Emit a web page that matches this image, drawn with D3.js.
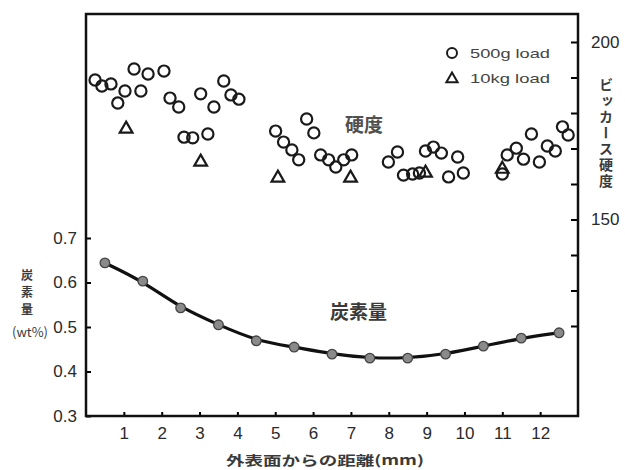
<!DOCTYPE html>
<html lang="ja">

<head>
    <meta charset="UTF-8">
    <title>硬度と炭素量</title>
    <script src="https://d3js.org/d3.v7.min.js"></script>
    <style>
        body {
            margin: 0;
            background: #fff;
        }

        .tick text {
            font-family: "Liberation Sans", Arial, sans-serif;
            font-size: 17px;
            fill: #2a2a2a;
        }

        .jp {
            font-family: "Noto Sans CJK JP", sans-serif;
            fill: #3a3a3a;
        }
    </style>
</head>

<body>
    <svg class="chart" width="625" height="470"></svg>

    <script>
        // x軸 (外表面からの距離 mm)
        const xTicks = [1, 2, 3, 4, 5, 6, 7, 8, 9, 10, 11, 12];
        // 炭素量 (wt%)
        const carbonTicks = [0.3, 0.4, 0.5, 0.6, 0.7];
        const carbonX = [0.5, 1.5, 2.5, 3.5, 4.5, 5.5, 6.5, 7.5, 8.5, 9.5, 10.5, 11.5, 12.5];
        const carbonY = [0.644, 0.603, 0.543, 0.505, 0.469, 0.455, 0.439, 0.430, 0.430, 0.439, 0.457, 0.475, 0.487];
        // ビッカース硬度
        const hvTicks = [120, 130, 140, 150, 160, 170, 180, 190, 200];
        const hvLabels = [150, 200];
        const hv500X = [0.24, 0.42, 0.66, 1.27, 1.64, 2.06, 1.03, 1.45, 0.84, 2.22, 2.45, 3.03, 3.38, 3.64, 3.83, 4.04,
            2.59, 2.82, 3.22, 5.01, 5.22, 5.44, 5.62, 5.83, 6.02, 6.20, 6.41, 6.60, 6.81, 7.02,
            7.99, 8.23, 8.39, 8.63, 8.81, 8.97, 9.18, 9.39, 9.82, 9.58, 9.97,
            11.00, 11.13, 11.37, 11.56, 11.77, 11.98, 12.19, 12.40, 12.59, 12.74];
        const hv500Y = [189.3, 187.6, 188.2, 192.4, 191.0, 191.8, 186.2, 186.2, 182.8, 184.2, 181.7, 185.4, 181.7, 189.0, 185.1, 183.9,
            173.2, 173.0, 174.1, 174.9, 171.8, 169.6, 166.8, 178.3, 174.4, 168.2, 166.8, 164.8, 166.8, 168.2,
            166.2, 169.0, 162.5, 162.8, 163.1, 169.3, 170.4, 168.7, 167.6, 162.0, 163.1,
            162.8, 168.2, 170.1, 167.0, 174.1, 166.2, 170.7, 169.3, 176.1, 173.8];
        const hv10kX = [1.06, 3.03, 5.07, 6.99, 8.97, 11.0];
        const hv10kY = [175.5, 166.2, 161.7, 161.7, 163.1, 164.2];

        const svg = d3.select(".chart");

        // プロット領域
        const plotLeft = 86, plotRight = 578, plotTop = 14, plotBottom = 416;

        const x = d3.scaleLinear().domain([0, 13]).range([plotLeft, plotRight]);
        const yC = d3.scaleLinear().domain([0.3, 0.7]).range([plotBottom, 238]);
        const yH = d3.scaleLinear().domain([150, 200]).range([219.5, 42]);

        // 軸
        svg.append("g")
            .attr("transform", "translate(" + plotLeft + ",0)")
            .call(d3.axisLeft(yC).tickValues(carbonTicks).tickFormat(d3.format(".1f"))
                .tickSizeInner(-5).tickSizeOuter(0).tickPadding(9))
            .call(g => g.select(".domain").remove())
            .selectAll(".tick line").attr("stroke-width", 2);

        svg.append("g")
            .attr("transform", "translate(0," + plotBottom + ")")
            .call(d3.axisBottom(x).tickValues(xTicks).tickSizeInner(-4).tickSizeOuter(0).tickPadding(11))
            .call(g => g.select(".domain").remove())
            .selectAll(".tick line").attr("stroke-width", 2);

        svg.append("g")
            .attr("transform", "translate(" + plotRight + ",0)")
            .call(d3.axisRight(yH).tickValues(hvTicks)
                .tickFormat(d => hvLabels.includes(d) ? d : "")
                .tickSizeInner(-7).tickSizeOuter(0).tickPadding(13))
            .call(g => g.select(".domain").remove())
            .selectAll(".tick line").attr("stroke-width", 2);

        // 枠
        svg.append("rect")
            .attr("x", plotLeft).attr("y", plotTop)
            .attr("width", plotRight - plotLeft).attr("height", plotBottom - plotTop)
            .attr("fill", "none").attr("stroke", "#111").attr("stroke-width", 2.5);

        // 硬度 500g
        svg.selectAll(".hv500")
            .data(hv500X)
            .enter().append("circle")
            .attr("class", "hv500")
            .attr("cx", d => x(d))
            .attr("cy", (d, i) => yH(hv500Y[i]))
            .attr("r", 5.6)
            .attr("fill", "none")
            .attr("stroke", "#1a1a1a")
            .attr("stroke-width", 2.2);

        // 硬度 10kg
        const tri = d3.symbol(d3.symbolTriangle, 70);
        svg.selectAll(".hv10k")
            .data(hv10kX)
            .enter().append("path")
            .attr("class", "hv10k")
            .attr("d", tri)
            .attr("transform", (d, i) => "translate(" + x(d) + "," + yH(hv10kY[i]) + ")")
            .attr("fill", "none")
            .attr("stroke", "#1a1a1a")
            .attr("stroke-width", 2.2);

        // 炭素量
        const carbon = carbonX.map((d, i) => [d, carbonY[i]]);
        svg.append("path")
            .datum(carbon)
            .attr("d", d3.line().x(d => x(d[0])).y(d => yC(d[1])).curve(d3.curveBasis))
            .attr("fill", "none")
            .attr("stroke", "#111")
            .attr("stroke-width", 3.2);

        svg.selectAll(".carbon")
            .data(carbon)
            .enter().append("circle")
            .attr("class", "carbon")
            .attr("cx", d => x(d[0]))
            .attr("cy", d => yC(d[1]))
            .attr("r", 4.8)
            .attr("fill", "#8a8a8a")
            .attr("stroke", "#444")
            .attr("stroke-width", 1.3);

        // 凡例
        svg.append("circle").attr("cx", 452).attr("cy", 53).attr("r", 5)
            .attr("fill", "none").attr("stroke", "#1a1a1a").attr("stroke-width", 2);
        svg.append("path").attr("d", d3.symbol(d3.symbolTriangle, 55))
            .attr("transform", "translate(452,79)")
            .attr("fill", "none").attr("stroke", "#1a1a1a").attr("stroke-width", 2);
        svg.append("text").attr("x", 470).attr("y", 58)
            .attr("textLength", 80).attr("lengthAdjust", "spacingAndGlyphs")
            .style("font-family", "Liberation Sans, Arial, sans-serif").style("font-size", "13px").attr("fill", "#444")
            .text("500g load");
        svg.append("text").attr("x", 470).attr("y", 83)
            .attr("textLength", 80).attr("lengthAdjust", "spacingAndGlyphs")
            .style("font-family", "Liberation Sans, Arial, sans-serif").style("font-size", "13px").attr("fill", "#444")
            .text("10kg load");

        // 注記
        svg.append("text").attr("class", "jp").attr("x", 345).attr("y", 132)
            .style("font-size", "19px").style("font-weight", "bold").style("fill", "#505050").text("硬度");
        svg.append("text").attr("class", "jp").attr("x", 330).attr("y", 319)
            .style("font-size", "19px").style("font-weight", "bold").text("炭素量");

        // 軸タイトル
        svg.append("text").attr("class", "jp")
            .attr("x", 325).attr("y", 465)
            .attr("text-anchor", "middle")
            .attr("textLength", 198).attr("lengthAdjust", "spacingAndGlyphs")
            .style("font-size", "13px").style("font-weight", "bold")
            .text("外表面からの距離(mm)");

        svg.append("text").attr("class", "jp")
            .attr("x", 27).attr("y", 269)
            .style("writing-mode", "vertical-rl")
            .style("font-size", "12px").style("font-weight", "bold")
            .style("letter-spacing", "5px")
            .text("炭素量");
        svg.append("text").attr("class", "jp")
            .attr("x", 30).attr("y", 337)
            .attr("text-anchor", "middle")
            .attr("textLength", 36).attr("lengthAdjust", "spacingAndGlyphs")
            .style("font-size", "13px")
            .text("(wt%)");

        svg.append("text").attr("class", "jp")
            .attr("x", 606).attr("y", 78)
            .style("writing-mode", "vertical-rl")
            .style("font-size", "14px").style("font-weight", "bold")
            .style("letter-spacing", "2px")
            .text("ビッカース硬度");
    </script>
</body>

</html>
